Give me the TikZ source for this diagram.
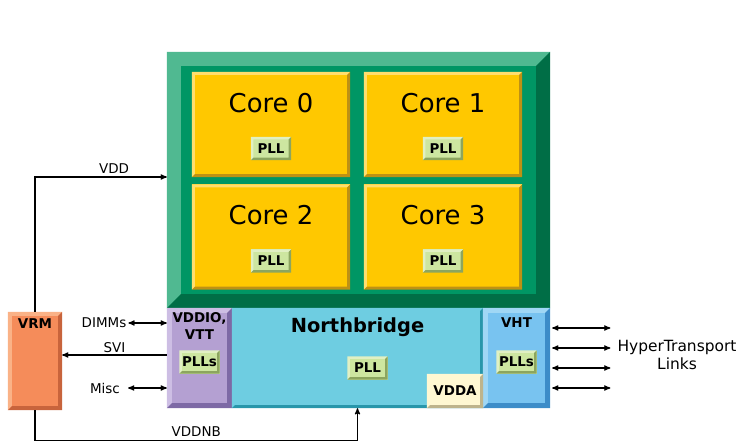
\documentclass[tikz,border=0pt]{standalone}
\usepackage{fontspec}
\setmainfont{DejaVu Sans}
\usetikzlibrary{arrows, positioning}
\tikzset{
    %Define standard arrow tip
    >=stealth',
}
\definecolor{chipgreen}{RGB}{0,150,100}
\definecolor{chiplight}{RGB}{80,185,145}
\definecolor{chipdark}{RGB}{0,110,70}
\definecolor{coreyellow}{RGB}{255,200,0}
\definecolor{corelight}{RGB}{255,222,110}
\definecolor{coredark}{RGB}{190,145,20}
\definecolor{pllgreen}{RGB}{205,230,160}
\definecolor{plllight}{RGB}{225,240,195}
\definecolor{plldark}{RGB}{140,165,95}
\definecolor{iopurple}{RGB}{180,160,210}
\definecolor{iolight}{RGB}{205,190,228}
\definecolor{iodark}{RGB}{125,105,165}
\definecolor{nbcyan}{RGB}{110,205,225}
\definecolor{nbdark}{RGB}{40,150,170}
\definecolor{htblue}{RGB}{120,195,240}
\definecolor{htlight}{RGB}{160,215,245}
\definecolor{htdark}{RGB}{60,140,200}
\definecolor{vddacream}{RGB}{255,248,210}
\definecolor{vddadark}{RGB}{190,180,140}
\definecolor{vrmorange}{RGB}{245,140,90}
\definecolor{vrmlight}{RGB}{250,178,135}
\definecolor{vrmdark}{RGB}{200,100,60}
% bevelled edge round a node: name, width, light, dark
\newcommand{\bevel}[4]{%
  \fill[#3] (#1.south west) -- (#1.north west) -- (#1.north east)
    -- ([xshift=-#2,yshift=-#2]#1.north east) -- ([xshift=#2,yshift=-#2]#1.north west)
    -- ([xshift=#2,yshift=#2]#1.south west) -- cycle;
  \fill[#4] (#1.south west) -- (#1.south east) -- (#1.north east)
    -- ([xshift=-#2,yshift=-#2]#1.north east) -- ([xshift=-#2,yshift=#2]#1.south east)
    -- ([xshift=#2,yshift=#2]#1.south west) -- cycle;
}

\begin{document}
\begin{tikzpicture}[
  x=1bp, y=-1bp,
  every node/.style = {shape=rectangle, align=center, inner sep=0pt},
  plate/.style = {fill=#1, draw=none},
  core/.style = {plate=coreyellow, minimum width=158bp, minimum height=105bp},
  corename/.style = {font=\fontsize{26}{30}\selectfont},
  pll/.style = {plate=pllgreen, minimum width=40bp, minimum height=23bp,
                font=\fontsize{13.5}{16}\selectfont\bfseries},
  bold/.style = {font=\fontsize{13.5}{17}\selectfont\bfseries},
  lbl/.style = {font=\fontsize{13.5}{15}\selectfont},
  wire/.style = {draw, line width=1.2bp},
  link/.style = {wire, <->} ]
  \useasboundingbox (0,0) rectangle (739,443);

  % processor die
  \node[plate=chipgreen, minimum width=383bp, minimum height=256bp] (chip) at (358.5,180) {};
  \bevel{chip}{14bp}{chiplight}{chipdark}
  \node[core] (core0) at (271,124.5) {};
  \node[core] (core1) at (443,124.5) {};
  \node[core] (core2) at (271,237) {};
  \node[core] (core3) at (443,237) {};
  \bevel{core0}{3bp}{corelight}{coredark}
  \bevel{core1}{3bp}{corelight}{coredark}
  \bevel{core2}{3bp}{corelight}{coredark}
  \bevel{core3}{3bp}{corelight}{coredark}
  \node[corename, below=21bp of core0.north] (name0) {Core 0};
  \node[corename, below=21bp of core1.north] (name1) {Core 1};
  \node[corename, below=21bp of core2.north] (name2) {Core 2};
  \node[corename, below=21bp of core3.north] (name3) {Core 3};
  \node[pll, above=17bp of core0.south] (pll0) {};
  \node[pll, above=17bp of core1.south] (pll1) {};
  \node[pll, above=17bp of core2.south] (pll2) {};
  \node[pll, above=17bp of core3.south] (pll3) {};

  % bottom row
  \node[plate=iopurple, minimum width=65bp, minimum height=100bp] (vddio) at (199.5,358) {};
  \node[plate=nbcyan, minimum width=251bp, minimum height=100bp] (nb) at (357.5,358) {};
  \node[plate=htblue, minimum width=67bp, minimum height=100bp] (vht) at (516.5,358) {};
  \bevel{vddio}{5bp}{iolight}{iodark}
  \bevel{nb}{3bp}{nbcyan}{nbdark}
  \bevel{vht}{5bp}{htlight}{htdark}
  \node[plate=vddacream, minimum width=56bp, minimum height=34bp, anchor=south east] (vdda) at (nb.south east) {};
  \bevel{vdda}{3bp}{vddacream}{vddadark}
  \node[bold] at (vdda) {VDDA};
  \node[bold, below=5bp of vddio.north] (iotext) {VDDIO,\\VTT};
  \node[pll] (iopll) at ([yshift=-4bp]vddio.center) {};
  \node[bold, font=\fontsize{19.5}{22}\selectfont\bfseries, below=10bp of nb.north] (nbtext) {Northbridge};
  \node[pll] (nbpll) at ([xshift=10bp,yshift=-10bp]nb.center) {};
  \node[bold, below=10bp of vht.north] (httext) {VHT};
  \node[pll] (htpll) at ([yshift=-4bp]vht.center) {};

  % pll edges, then their names
  \bevel{pll0}{2.5bp}{plllight}{plldark}
  \bevel{pll1}{2.5bp}{plllight}{plldark}
  \bevel{pll2}{2.5bp}{plllight}{plldark}
  \bevel{pll3}{2.5bp}{plllight}{plldark}
  \bevel{iopll}{2.5bp}{plllight}{plldark}
  \bevel{nbpll}{2.5bp}{plllight}{plldark}
  \bevel{htpll}{2.5bp}{plllight}{plldark}
  \node[bold] at (pll0) {PLL};
  \node[bold] at (pll1) {PLL};
  \node[bold] at (pll2) {PLL};
  \node[bold] at (pll3) {PLL};
  \node[bold] at (iopll) {PLLs};
  \node[bold] at (nbpll) {PLL};
  \node[bold] at (htpll) {PLLs};

  % regulator
  \node[plate=vrmorange, minimum width=54bp, minimum height=98bp] (vrm) at (35,361) {};
  \bevel{vrm}{4bp}{vrmlight}{vrmdark}
  \node[bold, below=7bp of vrm.north] (vrmtext) {VRM};

  % supply and signal lines
  \draw[wire,->] (vrm.north) |- ([yshift=3bp]chip.west) node[lbl, pos=0.8, above=3bp] {VDD};
  \draw[wire,->] (vrm.south) -- ++(0,30) -| (nb.south) node[lbl, pos=0.25, above=3bp] {VDDNB};
  \draw[wire,->] ([yshift=3bp]vddio.west) -- ([yshift=3bp]vddio.west -| vrm.east)
    node[lbl, pos=0.5, above=2bp] {SVI};
  \node[lbl] (dimms) at (104,323) {DIMMs};
  \node[lbl] (misc) at (105,388) {Misc};
  \draw[link] ([xshift=2bp]dimms.east) -- (vddio.west |- dimms.east);
  \draw[link] ([xshift=8bp]misc.east) -- (vddio.west |- misc.east);

  % links
  \node[lbl, font=\fontsize{15.5}{18}\selectfont] (ht) at (677,355) {HyperTransport\\Links};
  \draw[link] ([xshift=2bp]vht.east |- 0,328) -- ([xshift=-7bp]ht.west |- 0,328);
  \draw[link] ([xshift=2bp]vht.east |- 0,348) -- ([xshift=-7bp]ht.west |- 0,348);
  \draw[link] ([xshift=2bp]vht.east |- 0,368) -- ([xshift=-7bp]ht.west |- 0,368);
  \draw[link] ([xshift=2bp]vht.east |- 0,388) -- ([xshift=-7bp]ht.west |- 0,388);
\end{tikzpicture}
\end{document}
